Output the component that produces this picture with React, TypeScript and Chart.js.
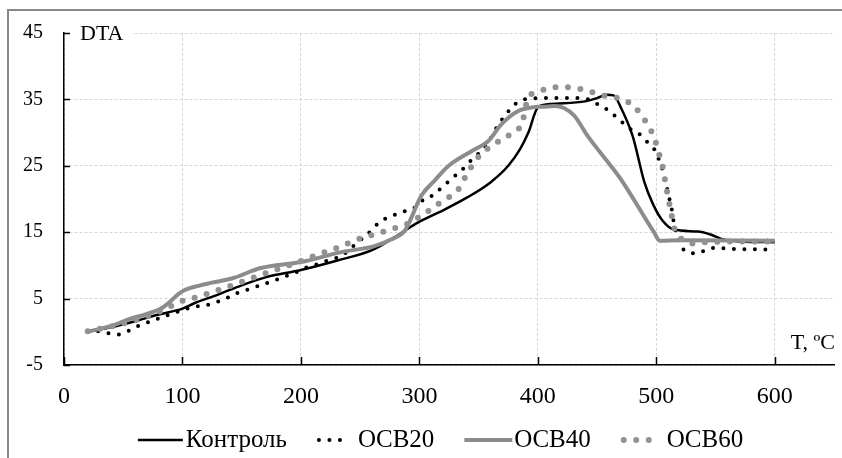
import React, { useEffect, useRef } from 'react';
import { Chart, registerables } from 'chart.js';

Chart.register(...registerables);

const seriesNames = ['Контроль', 'OCB20', 'OCB40', 'OCB60'];
const xTickValues = [0, 100, 200, 300, 400, 500, 600];
const yTickValues = [-5, 5, 15, 25, 35, 45];
const yAxisTitle = 'DTA';
const xAxisTitle = 'T, ºC';

const kontrolT = [20, 40, 60, 80, 100, 110, 130, 150, 170, 200, 230, 260, 275, 290, 300, 320, 340, 360, 375, 385, 392, 400, 410, 440, 450, 458, 464, 470, 480, 490, 497, 505, 515, 535, 545, 555, 570, 600];
const kontrolV = [0, 0.7, 1.6, 2.6, 3.5, 4.3, 5.6, 7, 8.2, 9.3, 10.7, 12.3, 13.8, 15.5, 16.6, 18.3, 20.2, 22.5, 25, 27.5, 30, 33.8, 34.3, 34.7, 35.2, 35.7, 35.6, 33.8, 29.5, 22.5, 19.3, 16.8, 15.4, 15.1, 14.7, 14, 13.6, 13.5];

const ocb20T = [20, 28, 37, 46, 54, 63, 80, 104, 112, 122, 131, 139, 147, 156, 164, 180, 195, 205, 214, 222, 231, 240, 246, 253, 259, 265, 273, 282, 290, 298, 304, 313, 319, 326, 332, 339, 345, 351, 358, 366, 372, 378, 384, 392, 410, 430, 443, 451, 460, 467, 480, 488, 494, 500, 503, 506, 508, 510, 513, 515, 517, 520, 526, 534, 542, 551, 560, 600];
const ocb20V = [0, 0.1, -0.2, -0.4, 0.1, 0.9, 2, 3.5, 3.8, 4.1, 4.6, 5.2, 5.9, 6.4, 6.9, 7.9, 8.9, 9.7, 10.2, 10.7, 11.2, 12.2, 13.2, 14.2, 15.2, 16.3, 17.2, 17.8, 18.3, 18.9, 20, 20.7, 21.8, 22.8, 23.8, 24.9, 26.1, 27, 28.5, 31, 32.5, 33.8, 34.7, 35.1, 35.2, 35.2, 35, 34.2, 33.3, 32.2, 30.3, 29.5, 28.2, 27, 25.5, 24, 22.5, 20.8, 18.5, 16.2, 14.7, 13.2, 12, 11.8, 12.3, 12.7, 12.5, 12.4];

const ocb40T = [20, 40, 55, 70, 82, 90, 96, 102, 115, 125, 143, 166, 200, 234, 262, 276, 288, 294, 298, 302, 313, 324, 344, 358, 369, 383, 395, 405, 414, 422, 431, 442, 470, 498, 503, 520, 600];
const ocb40V = [0, 0.9, 1.9, 2.7, 3.5, 4.6, 5.6, 6.3, 7, 7.4, 8.1, 9.6, 10.5, 12, 12.9, 13.9, 15.3, 17.5, 19.2, 20.6, 22.8, 24.9, 27.2, 28.7, 31.2, 33.2, 33.8, 33.9, 34, 33.7, 32.5, 29.5, 23, 15, 13.7, 13.8, 13.7];

const ocb60T = [20, 40, 63, 80, 92, 102, 112, 124, 134, 150, 170, 190, 205, 217, 227, 236, 246, 257, 268, 279, 289, 299, 310, 318, 326, 334, 339, 344, 351, 360, 369, 378, 386, 389, 391, 398, 408, 420, 430, 441, 452, 462, 473, 482, 489, 495, 499, 502, 505, 507, 509, 511, 513, 515, 520, 531, 542, 560, 600];
const ocb60V = [0.1, 0.8, 1.9, 3, 4, 4.8, 5.2, 5.9, 6.5, 7.5, 8.8, 10, 11, 11.8, 12.4, 13, 13.8, 14.4, 15, 15.6, 16.2, 17.2, 18.5, 19.5, 20.4, 21.7, 23.4, 24.9, 26.6, 27.9, 28.9, 29.9, 31.2, 33.1, 35, 36, 36.6, 36.9, 36.7, 36.4, 35.7, 35.4, 34.9, 33.8, 32.2, 30.5, 28.8, 27, 25.2, 23.2, 21.2, 19.3, 17.5, 15.7, 14.2, 13.3, 13.5, 13.6, 13.6];

const SERIF = '"Times New Roman", "Liberation Serif", serif';
const GRAY = '#8c8c8c';

const toPoints = (t: number[], v: number[]) => t.map((x, i) => ({ x, y: v[i] }));

const decorPlugin = {
  id: 'decor',
  afterDraw(chart: any) {
    const { ctx, chartArea, scales } = chart;
    const xs = scales.x;
    const ys = scales.y;
    ctx.save();
    const yTop = ys.getPixelForValue(45);
    ctx.fillStyle = '#ffffff';
    ctx.fillRect(chartArea.left + 2, yTop - 12, 66, 24);
    ctx.strokeStyle = '#000';
    ctx.lineWidth = 1.5;
    ctx.setLineDash([]);
    ys.ticks.forEach((t: any) => {
      const y = Math.round(ys.getPixelForValue(t.value)) + 0.5;
      ctx.beginPath();
      ctx.moveTo(chartArea.left, y);
      ctx.lineTo(chartArea.left + 6, y);
      ctx.stroke();
    });
    xs.ticks.forEach((t: any) => {
      const x = Math.round(xs.getPixelForValue(t.value)) + 0.5;
      ctx.beginPath();
      ctx.moveTo(x, chartArea.bottom);
      ctx.lineTo(x, chartArea.bottom - 8);
      ctx.stroke();
    });
    ctx.fillStyle = '#000';
    ctx.font = `22px ${SERIF}`;
    ctx.textBaseline = 'middle';
    ctx.textAlign = 'left';
    ctx.fillText(yAxisTitle, chartArea.left + 16, yTop + 1);
    ctx.textAlign = 'right';
    ctx.fillText(xAxisTitle, chartArea.right + 1, chartArea.bottom - 22);

    // legend
    ctx.font = `25px ${SERIF}`;
    const ds = chart.data.datasets;
    const gaps = [3, 7, 2, 6];
    const sampleW = [45, 34, 48, 40];
    const itemGap = 30;
    const widths = ds.map((d: any, i: number) => sampleW[i] + gaps[i] + ctx.measureText(d.label).width);
    const total = widths.reduce((a: number, b: number) => a + b, 0) + itemGap * (ds.length - 1);
    let x = 440.5 - total / 2;
    const ly = 440;
    ds.forEach((d: any, i: number) => {
      ctx.save();
      ctx.strokeStyle = d.borderColor;
      ctx.lineWidth = d.borderWidth;
      ctx.lineCap = d.borderCapStyle || 'butt';
      ctx.setLineDash(d.borderDash || []);
      ctx.beginPath();
      const dotted = d.borderDash && d.borderDash.length;
      const off = dotted ? d.borderWidth / 2 : 0;
      ctx.moveTo(x + off, ly);
      ctx.lineTo(x + sampleW[i] - off + (dotted ? 1 : 0), ly);
      ctx.stroke();
      ctx.restore();
      ctx.fillStyle = '#000';
      ctx.textAlign = 'left';
      ctx.textBaseline = 'middle';
      ctx.fillText(d.label, x + sampleW[i] + gaps[i], ly);
      x += widths[i] + itemGap;
    });
    ctx.restore();
  },
};

export default function App() {
  const canvasRef = useRef<HTMLCanvasElement | null>(null);

  useEffect(() => {
    if (!canvasRef.current) return;
    const chart = new Chart(canvasRef.current, {
      type: 'line',
      data: {
        datasets: [
          {
            label: seriesNames[0],
            data: toPoints(kontrolT, kontrolV),
            borderColor: '#000000',
            borderWidth: 2.5,
            order: 3,
          },
          {
            label: seriesNames[1],
            data: toPoints(ocb20T, ocb20V),
            borderColor: '#000000',
            borderWidth: 4,
            borderDash: [0, 10.5],
            borderCapStyle: 'round',
            order: 2,
          },
          {
            label: seriesNames[2],
            data: toPoints(ocb40T, ocb40V),
            borderColor: GRAY,
            borderWidth: 4,
            order: 1,
          },
          {
            label: seriesNames[3],
            data: toPoints(ocb60T, ocb60V),
            borderColor: '#929292',
            borderWidth: 6,
            borderDash: [0, 12.5],
            borderCapStyle: 'round',
            order: 0,
          },
        ] as any,
      },
      options: {
        animation: false,
        responsive: false,
        devicePixelRatio: 1,
        elements: {
          point: { radius: 0, hoverRadius: 0 },
          line: { cubicInterpolationMode: 'monotone', fill: false },
        },
        layout: { padding: { left: 0, right: 8, top: 33, bottom: 0 } },
        plugins: {
          legend: { display: false },
          tooltip: { enabled: false },
        },
        scales: {
          x: {
            type: 'linear',
            min: 0,
            max: 650,
            afterBuildTicks: (scale: any) => {
              scale.ticks = xTickValues.map((v) => ({ value: v }));
            },
            afterFit: (scale: any) => {
              scale.height = 93;
            },
            ticks: {
              font: { family: SERIF, size: 24 },
              color: '#000',
              padding: 17,
              maxRotation: 0,
              autoSkip: false,
            },
            grid: {
              display: true,
              color: '#d6d6d6',
              lineWidth: 1,
              drawTicks: false,
            },
            border: { display: true, color: '#000', width: 1.5, dash: [3, 2] },
          },
          y: {
            type: 'linear',
            min: -5,
            max: 45,
            afterBuildTicks: (scale: any) => {
              scale.ticks = yTickValues.map((v) => ({ value: v }));
            },
            afterFit: (scale: any) => {
              scale.width = 64;
            },
            ticks: {
              font: { family: SERIF, size: 20 },
              color: '#000',
              padding: 21,
              autoSkip: false,
            },
            grid: {
              display: true,
              color: '#d6d6d6',
              lineWidth: 1,
              drawTicks: false,
            },
            border: { display: true, color: '#000', width: 1.5, dash: [3, 2] },
          },
        },
      } as any,
      plugins: [decorPlugin],
    });
    return () => chart.destroy();
  }, []);

  return (
    <div style={{ position: 'absolute', left: 0, top: 0, width: 842, height: 458, overflow: 'hidden', background: '#fff' }}>
      <div
        style={{
          position: 'absolute',
          left: 7,
          top: 9,
          width: 900,
          height: 500,
          borderLeft: '2px solid #888',
          borderTop: '2px solid #888',
          boxSizing: 'border-box',
        }}
      />
      <canvas ref={canvasRef} width={842} height={458} style={{ position: 'absolute', left: 0, top: 0, width: 842, height: 458 }} />
    </div>
  );
}
